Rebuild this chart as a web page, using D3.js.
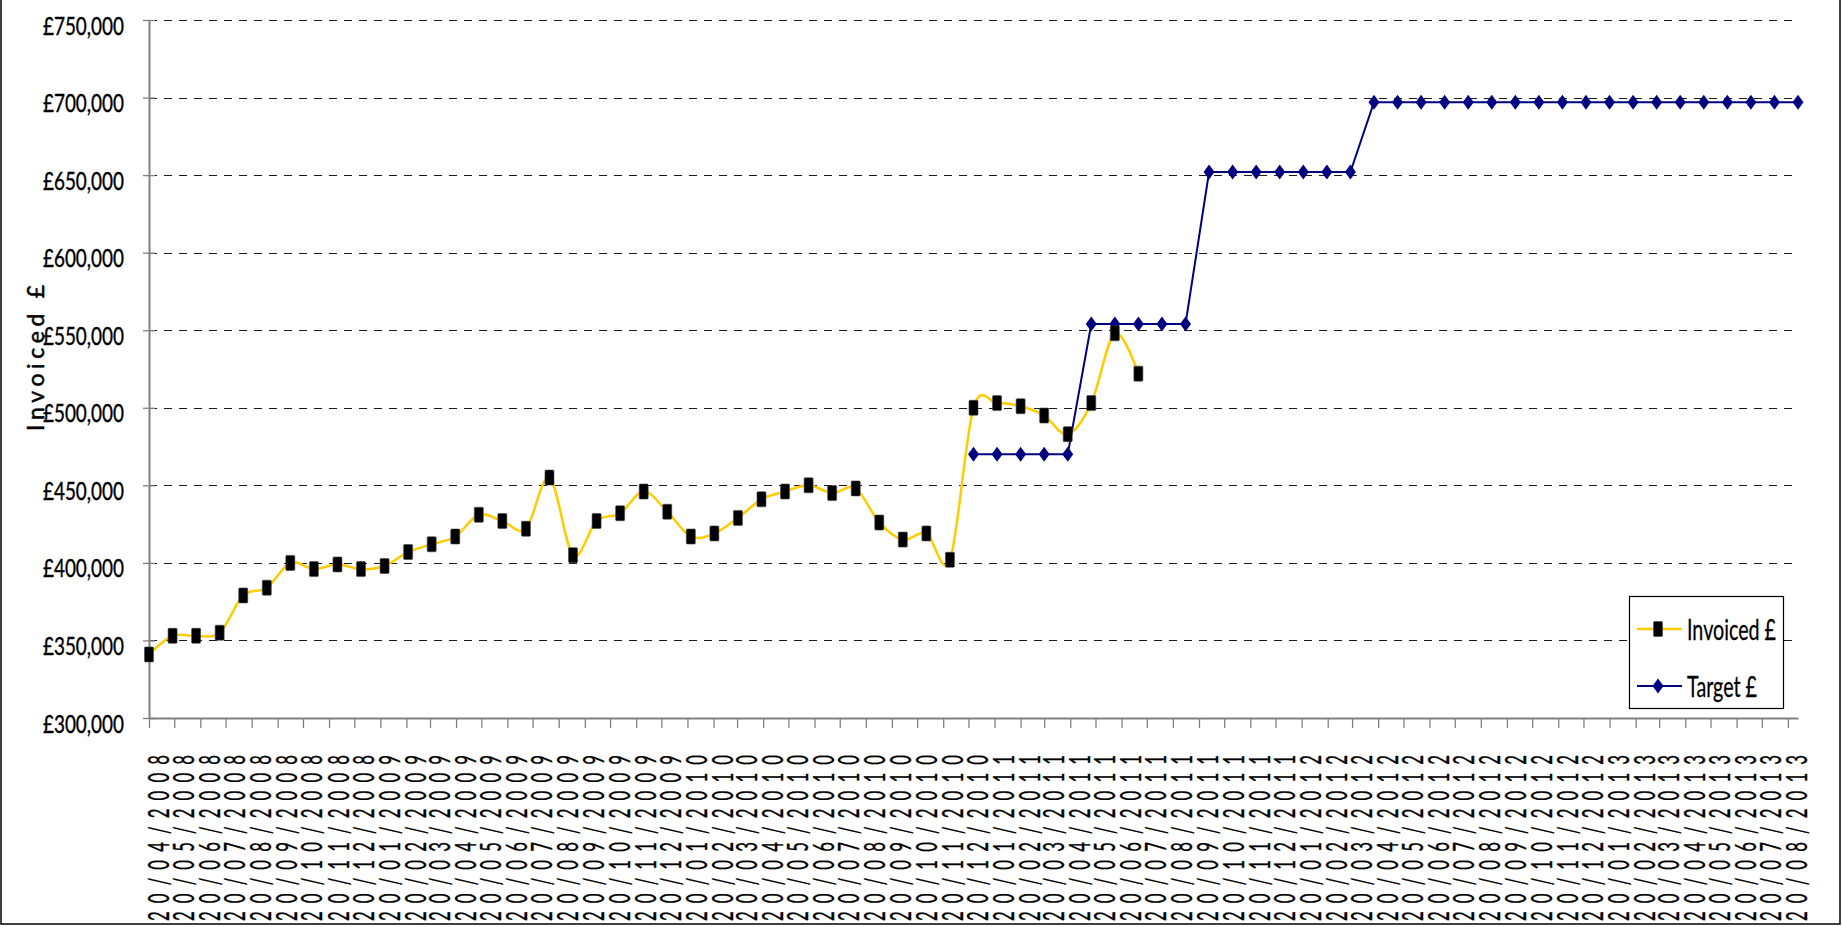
<!DOCTYPE html>
<html>
<head>
<meta charset="utf-8">
<script src="https://cdn.jsdelivr.net/npm/d3@7"></script>
<style>
  html, body { margin: 0; padding: 0; background: #fff; }
  svg { display: block; }
  text { font-family: Lato, "Open Sans", sans-serif; fill: #000; }
</style>
</head>
<body>
<svg id="chart"></svg>
<script>
// monthly axis labels
const tickLabels = [
  "20/04/2008", "20/05/2008", "20/06/2008", "20/07/2008", "20/08/2008", "20/09/2008", "20/10/2008", "20/11/2008", "20/12/2008",
  "20/01/2009", "20/02/2009", "20/03/2009", "20/04/2009", "20/05/2009", "20/06/2009", "20/07/2009", "20/08/2009", "20/09/2009", "20/10/2009", "20/11/2009", "20/12/2009",
  "20/01/2010", "20/02/2010", "20/03/2010", "20/04/2010", "20/05/2010", "20/06/2010", "20/07/2010", "20/08/2010", "20/09/2010", "20/10/2010", "20/11/2010", "20/12/2010",
  "20/01/2011", "20/02/2011", "20/03/2011", "20/04/2011", "20/05/2011", "20/06/2011", "20/07/2011", "20/08/2011", "20/09/2011", "20/10/2011", "20/11/2011", "20/12/2011",
  "20/01/2012", "20/02/2012", "20/03/2012", "20/04/2012", "20/05/2012", "20/06/2012", "20/07/2012", "20/08/2012", "20/09/2012", "20/10/2012", "20/11/2012", "20/12/2012",
  "20/01/2013", "20/02/2013", "20/03/2013", "20/04/2013", "20/05/2013", "20/06/2013", "20/07/2013", "20/08/2013"
];

// 4-weekly periods the values belong to
const periodDates = [
  "20/04/2008", "18/05/2008", "15/06/2008", "13/07/2008", "10/08/2008", "07/09/2008", "05/10/2008", "02/11/2008", "30/11/2008", "28/12/2008",
  "25/01/2009", "22/02/2009", "22/03/2009", "19/04/2009", "17/05/2009", "14/06/2009", "12/07/2009", "09/08/2009", "06/09/2009", "04/10/2009",
  "01/11/2009", "29/11/2009", "27/12/2009", "24/01/2010", "21/02/2010", "21/03/2010", "18/04/2010", "16/05/2010", "13/06/2010", "11/07/2010",
  "08/08/2010", "05/09/2010", "03/10/2010", "31/10/2010", "28/11/2010", "26/12/2010", "23/01/2011", "20/02/2011", "20/03/2011", "17/04/2011",
  "15/05/2011", "12/06/2011", "10/07/2011", "07/08/2011", "04/09/2011", "02/10/2011", "30/10/2011", "27/11/2011", "25/12/2011", "22/01/2012",
  "19/02/2012", "18/03/2012", "15/04/2012", "13/05/2012", "10/06/2012", "08/07/2012", "05/08/2012", "02/09/2012", "30/09/2012", "28/10/2012",
  "25/11/2012", "23/12/2012", "20/01/2013", "17/02/2013", "17/03/2013", "14/04/2013", "12/05/2013", "09/06/2013", "07/07/2013", "04/08/2013",
  "01/09/2013"
];

const invoiced = [
  341000, 353000, 353000, 355000, 379000, 384000, 400000, 396000, 399000, 396000,
  398000, 407000, 412000, 417000, 431000, 427000, 422000, 455000, 405000, 427000,
  432000, 446000, 433000, 417000, 419000, 429000, 441000, 446000, 450000, 445000,
  448000, 426000, 415000, 419000, 402000, 500000, 503000, 501000, 495000, 483000,
  503000, 548000, 522000
];

const target = [
  null, null, null, null, null, null, null, null, null, null,
  null, null, null, null, null, null, null, null, null, null,
  null, null, null, null, null, null, null, null, null, null,
  null, null, null, null, null, 470000, 470000, 470000, 470000, 470000,
  554000, 554000, 554000, 554000, 554000, 652000, 652000, 652000, 652000, 652000,
  652000, 652000, 697000, 697000, 697000, 697000, 697000, 697000, 697000, 697000,
  697000, 697000, 697000, 697000, 697000, 697000, 697000, 697000, 697000, 697000,
  697000
];

const yTicks = [300000, 350000, 400000, 450000, 500000, 550000, 600000, 650000, 700000, 750000];

const seriesNames = ["Invoiced £", "Target £"];
const yTitle = "Invoiced £";

const width = 1842, height = 927;
const margin = { top: 20, left: 149, right: 44, bottom: 209 };
const plotRight = width - margin.right;

const parse = d3.timeParse("%d/%m/%Y");
const dates = periodDates.map(parse);

const svg = d3.select("#chart").attr("width", width).attr("height", height);

const x = d3.scaleTime()
  .domain(d3.extent(dates))
  .range([margin.left, 1798]);

const y = d3.scaleLinear()
  .domain([yTicks[0], yTicks[yTicks.length - 1]])
  .range([height - margin.bottom, margin.top]);

// outer frame
svg.append("rect")
  .attr("x", 1).attr("y", -2)
  .attr("width", width - 3).attr("height", height - 1)
  .attr("fill", "#fff").attr("stroke", "#000").attr("stroke-width", 1.5);

// dashed grid
svg.append("g")
  .selectAll("line")
  .data(yTicks.slice(1))
  .join("line")
  .attr("x1", margin.left).attr("x2", plotRight)
  .attr("y1", d => Math.round(y(d)) + 0.5).attr("y2", d => Math.round(y(d)) + 0.5)
  .attr("stroke", "#1a1a1a").attr("stroke-width", 1)
  .attr("stroke-dasharray", "8,7");

// x axis
const xAxis = d3.axisBottom(x)
  .tickValues(tickLabels.map(parse))
  .tickSizeInner(10).tickSizeOuter(0)
  .tickFormat((d, i) => tickLabels[i]);

const gx = svg.append("g")
  .attr("transform", `translate(0, ${y(yTicks[0])})`)
  .call(xAxis)
  .attr("font-family", null).attr("font-size", null);

gx.select(".domain").attr("stroke", "#808080").attr("stroke-width", 2);
gx.selectAll(".tick line").attr("stroke", "#808080").attr("stroke-width", 1.3);
gx.selectAll(".tick text")
  .attr("x", null).attr("y", null).attr("dy", null)
  .attr("text-anchor", "start")
  .attr("transform", `translate(19, ${921 - y(yTicks[0])}) rotate(-90) scale(0.6, 1)`)
  .attr("font-size", 28)
  .attr("textLength", 166 / 0.6)
  .attr("lengthAdjust", "spacing")
  .attr("fill", "#000")
  .attr("stroke", "#000").attr("stroke-width", 0.35);

// y axis
const yAxis = d3.axisLeft(y)
  .tickValues(yTicks)
  .tickSizeInner(6).tickSizeOuter(0)
  .tickFormat(v => "£" + d3.format(",")(v));

const gy = svg.append("g")
  .attr("transform", `translate(${margin.left}, 0)`)
  .call(yAxis)
  .attr("font-family", null).attr("font-size", null);

gy.select(".domain").attr("stroke", "#808080").attr("stroke-width", 2);
gy.selectAll(".tick line").attr("x1", 6).attr("x2", -6).attr("stroke", "#808080").attr("stroke-width", 1.3);
gy.selectAll(".tick text")
  .attr("x", -25).attr("dy", null).attr("y", 14)
  .attr("font-size", 25)
  .attr("textLength", 81)
  .attr("lengthAdjust", "spacingAndGlyphs")
  .attr("fill", "#000")
  .attr("stroke", "#000").attr("stroke-width", 0.4);

// y title
svg.append("text")
  .attr("transform", "translate(44, 431) rotate(-90)")
  .attr("font-size", 23)
  .attr("textLength", 146)
  .attr("lengthAdjust", "spacing")
  .attr("stroke", "#000").attr("stroke-width", 0.5)
  .text(yTitle);

// lines
const invLine = d3.line()
  .x((d, i) => x(dates[i]))
  .y(d => y(d))
  .curve(d3.curveCardinal.tension(0));

const tgtLine = d3.line()
  .defined(d => d != null)
  .x((d, i) => x(dates[i]))
  .y(d => y(d));

svg.append("path")
  .datum(invoiced)
  .attr("d", invLine)
  .attr("fill", "none").attr("stroke", "#ffcc00").attr("stroke-width", 2.5);

svg.append("path")
  .datum(target)
  .attr("d", tgtLine)
  .attr("fill", "none").attr("stroke", "#000080").attr("stroke-width", 2);

const diamond = "M0,-7.5L5.5,0L0,7.5L-5.5,0Z";

svg.append("g")
  .selectAll("path")
  .data(target.map((v, i) => ({ v, i })).filter(d => d.v != null))
  .join("path")
  .attr("d", diamond)
  .attr("transform", d => `translate(${x(dates[d.i])}, ${y(d.v)})`)
  .attr("fill", "#000080");

svg.append("g")
  .selectAll("rect")
  .data(invoiced)
  .join("rect")
  .attr("x", (d, i) => x(dates[i]) - 4.5)
  .attr("y", d => y(d) - 7.5)
  .attr("width", 9).attr("height", 15)
  .attr("rx", 1)
  .attr("fill", "#000").attr("stroke", "#444").attr("stroke-width", 0.6);

// legend
const legend = svg.append("g");
legend.append("rect")
  .attr("x", 1629.5).attr("y", 596.5)
  .attr("width", 154).attr("height", 112)
  .attr("fill", "#fff").attr("stroke", "#000").attr("stroke-width", 1.2);

const legRows = [
  { name: seriesNames[0], color: "#ffcc00", y: 629, len: 89 },
  { name: seriesNames[1], color: "#000080", y: 686, len: 70 }
];

legRows.forEach((r, k) => {
  legend.append("line")
    .attr("x1", 1637).attr("x2", 1682)
    .attr("y1", r.y).attr("y2", r.y)
    .attr("stroke", r.color).attr("stroke-width", k === 0 ? 2.5 : 2);
  if (k === 0) {
    legend.append("rect")
      .attr("x", 1658 - 4.5).attr("y", r.y - 7.5)
      .attr("width", 9).attr("height", 15).attr("rx", 1)
      .attr("fill", "#000").attr("stroke", "#444").attr("stroke-width", 0.6);
  } else {
    legend.append("path")
      .attr("d", diamond)
      .attr("transform", `translate(1658, ${r.y})`)
      .attr("fill", "#000080");
  }
  legend.append("text")
    .attr("x", 1687).attr("y", r.y + 11)
    .attr("font-size", 29)
    .attr("textLength", r.len)
    .attr("lengthAdjust", "spacingAndGlyphs")
    .attr("stroke", "#000").attr("stroke-width", 0.3)
    .text(r.name);
});
</script>
</body>
</html>
